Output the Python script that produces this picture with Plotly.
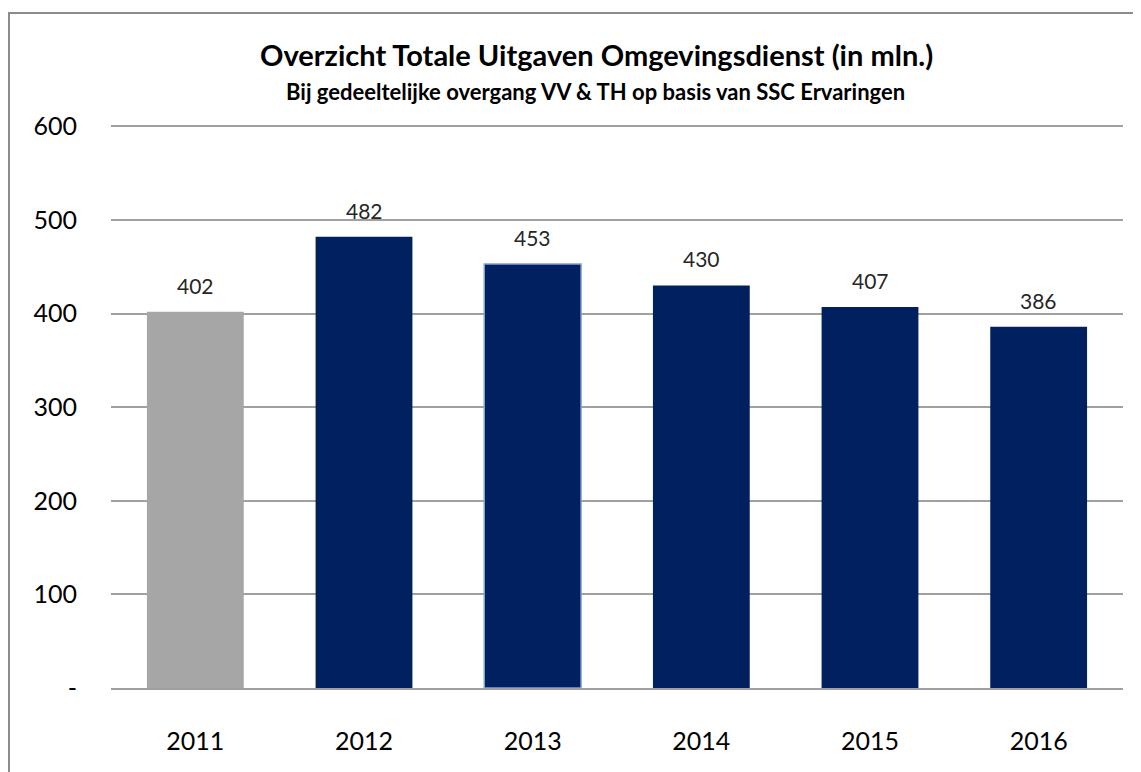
import plotly.graph_objects as go

years = ["2011", "2012", "2013", "2014", "2015", "2016"]
values = [402, 482, 453, 430, 407, 386]
bar_colors = ["#A6A6A6", "#002060", "#002060", "#002060", "#002060", "#002060"]
outline_colors = ["#A6A6A6", "#002060", "#7BA3D6", "#002060", "#002060", "#002060"]
outline_widths = [0, 0, 1.5, 0, 0, 0]
y_ticks = [0, 100, 200, 300, 400, 500, 600]
y_ticktext = ["-", "100", "200", "300", "400", "500", "600"]

FONT = "Lato, Calibri, Carlito, sans-serif"

# page has an 8px body margin; plot area in page px: x 111..1123, y 117..688 (range 0..610)
PL, PR, PT, PB = 111, 1123, 117, 688
W, H = PR - PL, PB - PT


def px(x):
    return (x - PL) / W


def py(y):
    return (PB - y) / H


fig = go.Figure()
fig.add_trace(go.Bar(
    x=years, y=values,
    marker=dict(color=bar_colors, line=dict(color=outline_colors, width=outline_widths)),
    hoverinfo="x+y",
))

# value labels: category axis -> use category index as position
annotations = [
    dict(x=i, y=v, xref="x", yref="y", text=str(v), showarrow=False,
         yanchor="bottom", yshift=12, font=dict(size=21, color="#262626", family=FONT))
    for i, v in enumerate(values)
]
annotations += [
    dict(text="<b>Overzicht Totale Uitgaven Omgevingsdienst (in mln.)</b>", xref="paper", yref="paper",
         x=px(596), y=py(55), xanchor="center", yanchor="middle",
         showarrow=False, font=dict(size=29, color="#000000", family=FONT)),
    dict(text="<b>Bij gedeeltelijke overgang VV &amp; TH op basis van SSC Ervaringen</b>", xref="paper", yref="paper",
         x=px(595), y=py(91), xanchor="center", yanchor="middle",
         showarrow=False, font=dict(size=22, color="#000000", family=FONT)),
]

fig.update_layout(
    width=1133, height=764,
    margin=dict(l=PL - 8, r=1133 - (PR - 8), t=PT - 8, b=764 - (PB - 8)),
    paper_bgcolor="white", plot_bgcolor="white",
    bargap=0.426, showlegend=False,
    font=dict(family=FONT, color="#000000"),
    xaxis=dict(type="category", range=[-0.5, len(years) - 0.5], showgrid=False, showline=True,
               linecolor="#A0A0A0", linewidth=2,
               tickfont=dict(size=25, color="#000000"), ticks="", ticklabelstandoff=30),
    yaxis=dict(range=[0, 610], tickvals=y_ticks, ticktext=y_ticktext,
               showgrid=True, gridcolor="#A0A0A0", gridwidth=1.5, zeroline=False,
               tickfont=dict(size=25, color="#000000"), ticks="", ticklabelstandoff=33),
    annotations=annotations,
    shapes=[
        dict(type="rect", xref="paper", yref="paper",
             x0=px(9), x1=px(1160), y0=py(790), y1=py(13),
             line=dict(color="#8C8C8C", width=2), fillcolor="rgba(0,0,0,0)", layer="below"),
    ],
)

fig.write_html("out.html")
